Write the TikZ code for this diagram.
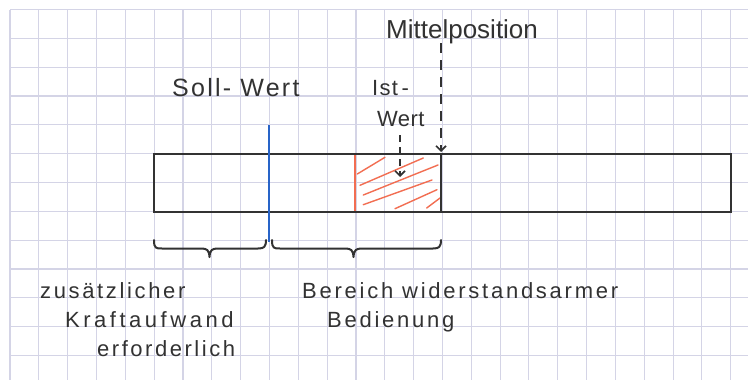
\documentclass[tikz,border=0pt]{standalone}
\usepackage{fontspec}
\newfontfamily\hand{Liberation Sans}
\usetikzlibrary{arrows.meta}
\definecolor{gridc}{RGB}{212,212,230}
\definecolor{ink}{RGB}{50,50,50}
\definecolor{hatchc}{RGB}{242,110,82}
\definecolor{bluec}{RGB}{40,100,200}
\tikzset{
  hw/.style={font=\hand\fontsize{22}{26}\selectfont, text=ink, inner sep=0pt, anchor=base west},
  barline/.style={draw=ink, line width=2.4pt},
  hatchline/.style={draw=hatchc, line width=1.4pt, line cap=round},
  bracepath/.style={draw=ink, line width=2pt, line cap=round, line join=round},
  dasharrow/.style={draw=ink, line width=1.6pt, dash pattern=on 10pt off 7pt, -{Straight Barb[length=5pt,width=10pt]}},
  dasharrowsmall/.style={draw=ink, line width=1.6pt, dash pattern=on 7pt off 5pt, -{Straight Barb[length=5pt,width=10pt]}},
}
\begin{document}
\begin{tikzpicture}[x=1pt,y=-1pt]
\useasboundingbox (0,0) rectangle (748,380);
\fill[white] (0,0) rectangle (748,380);
% grid paper
\foreach \k in {0,...,25} \draw[gridc, line width=1.1pt] ({10+28.83*\k},9.5) -- ({10+28.83*\k},380);
\foreach \k in {0,...,12} \draw[gridc, line width=1.1pt] (10,{9.5+28.83*\k}) -- (748,{9.5+28.83*\k});
% hatch
\draw[hatchline] (357.3,174) -- (385,157.3);
\draw[hatchline] (360,185.3) -- (423.3,158);
\draw[hatchline] (363.3,195) -- (438,165);
\draw[hatchline] (363.3,204.7) -- (432,180);
\draw[hatchline] (395,208.7) -- (437,189.7);
\draw[hatchline] (426.7,208) -- (440,198);
% bar
\coordinate (barNW) at (154,154);
\coordinate (barSE) at (731,211.7);
\draw[barline] (barNW) rectangle (barSE);
\draw[barline] (441,154) -- (441,211.7);
\draw[draw=hatchc, line width=2pt] (355,155) -- (355,210.7);
\draw[draw=bluec, line width=2pt] (268.7,125) -- (268.7,242);
% braces
\draw[bracepath] (154,240) .. controls (154,248.5) and (156,248.5) .. (162,248.5) -- (201,248.5)
  .. controls (207,248.5) and (209,250) .. (209.5,257) .. controls (210,250) and (212,248.5) .. (218,248.5)
  -- (258,248.5) .. controls (264,248.5) and (266,247) .. (266,240);
\draw[bracepath] (272,240) .. controls (272,248.5) and (274,248.5) .. (280,248.5) -- (345,248.5)
  .. controls (351,248.5) and (353,250) .. (353.5,257) .. controls (354,250) and (356,248.5) .. (362,248.5)
  -- (433,248.5) .. controls (439,248.5) and (441,247) .. (441,240);
% texts
\node[hw, font=\hand\fontsize{26}{30}\selectfont] (mittel) at (386,38.5) {Mittelposition};
\node[hw, font=\hand\fontsize{25}{30}\selectfont] (soll) at (172,96.5) {\addfontfeatures{LetterSpace=9}Soll-\ Wert};
\node[hw] (ist) at (372,95.5) {\addfontfeatures{LetterSpace=6}Ist\,-};
\node[hw] (wert) at (377,126) {\addfontfeatures{LetterSpace=2}Wert};
\node[hw] (zus) at (40,298.5) {\addfontfeatures{LetterSpace=12}zusätzlicher};
\node[hw] (kraft) at (65,327.5) {\addfontfeatures{LetterSpace=16}Kraftaufwand};
\node[hw] (erf) at (97,356.5) {\addfontfeatures{LetterSpace=11.5}erforderlich};
\node[hw] (ber) at (302,298.5) {\addfontfeatures{LetterSpace=12.5}Bereich widerstandsarmer};
\node[hw] (bed) at (327,327.5) {\addfontfeatures{LetterSpace=12.5}Bedienung};
% arrows
\coordinate (mpTop) at (441,43);
\coordinate (mpTip) at (441,152);
\coordinate (istTop) at (400,135);
\coordinate (istTip) at (400,177);
\draw[dasharrow] (mpTop) -- (mpTip);
\draw[dasharrowsmall] (istTop) -- (istTip);
\end{tikzpicture}
\end{document}
